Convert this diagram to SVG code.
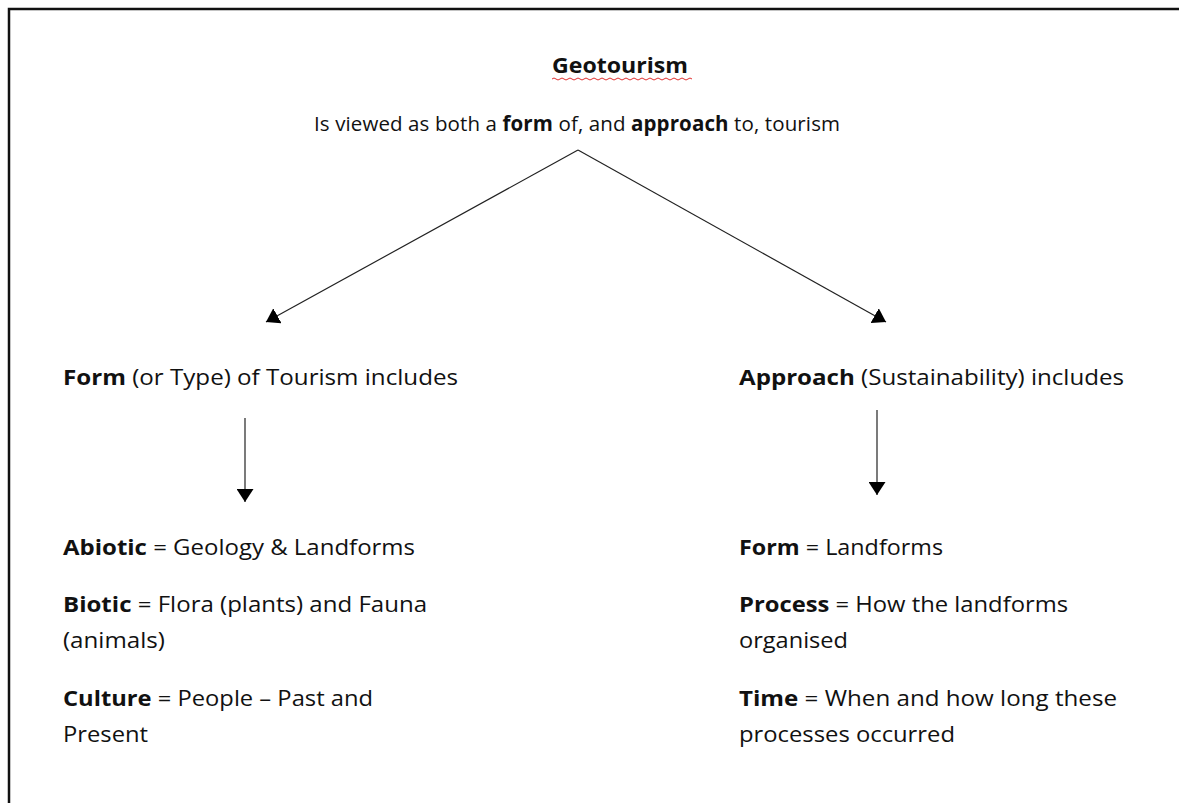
<svg xmlns="http://www.w3.org/2000/svg" width="1179" height="803" viewBox="0 0 1179 803">
<style>
text{font-family:"Open Sans","Liberation Sans",Arial,sans-serif;font-size:22px;fill:#111}
.b{font-weight:bold}
.sm{font-size:20.5px}
.conn{stroke:#222;stroke-width:1.2;fill:none}
.frame{stroke:#111;stroke-width:2.5;fill:none}
</style>
<defs>
<marker id="ah" viewBox="0 0 13 17" refX="13" refY="8.5" markerWidth="13" markerHeight="17" markerUnits="userSpaceOnUse" orient="auto">
<path d="M0,0 L13,8.5 L0,17 z" fill="#000"/>
</marker>
</defs>
<rect width="1179" height="803" fill="#fff"/>
<path class="frame" d="M9,803 L9,9 L1179,9"/>
<g id="title">
<text x="552" y="73" class="b" textLength="136" lengthAdjust="spacingAndGlyphs">Geotourism</text>
<path d="M552,79 q2,-2 4,0 t4,0 t4,0 t4,0 t4,0 t4,0 t4,0 t4,0 t4,0 t4,0 t4,0 t4,0 t4,0 t4,0 t4,0 t4,0 t4,0 t4,0 t4,0 t4,0 t4,0 t4,0 t4,0 t4,0 t4,0 t4,0 t4,0 t4,0 t4,0 t4,0 t4,0 t4,0 t4,0 t4,0 t4,0" stroke="#e03030" stroke-width="1" fill="none"/>
<text x="314" y="131" class="sm" textLength="526" lengthAdjust="spacing">Is viewed as both a <tspan class="b">form</tspan> of, and <tspan class="b">approach</tspan> to, tourism</text>
</g>
<g id="form-node">
<text x="63" y="385" textLength="395" lengthAdjust="spacingAndGlyphs"><tspan class="b">Form</tspan> (or Type) of Tourism includes</text>
</g>
<g id="approach-node">
<text x="739" y="385" textLength="385" lengthAdjust="spacingAndGlyphs"><tspan class="b">Approach</tspan> (Sustainability) includes</text>
</g>
<g id="form-list">
<text x="63" y="555" textLength="352" lengthAdjust="spacingAndGlyphs"><tspan class="b">Abiotic</tspan> = Geology &amp; Landforms</text>
<text x="63" y="612" textLength="364" lengthAdjust="spacingAndGlyphs"><tspan class="b">Biotic</tspan> = Flora (plants) and Fauna</text>
<text x="63" y="648" textLength="102" lengthAdjust="spacingAndGlyphs">(animals)</text>
<text x="63" y="706" textLength="310" lengthAdjust="spacingAndGlyphs"><tspan class="b">Culture</tspan> = People – Past and</text>
<text x="63" y="742" textLength="85" lengthAdjust="spacingAndGlyphs">Present</text>
</g>
<g id="approach-list">
<text x="739" y="555" textLength="204" lengthAdjust="spacingAndGlyphs"><tspan class="b">Form</tspan> = Landforms</text>
<text x="739" y="612" textLength="329" lengthAdjust="spacingAndGlyphs"><tspan class="b">Process</tspan> = How the landforms</text>
<text x="739" y="648" textLength="109" lengthAdjust="spacingAndGlyphs">organised</text>
<text x="739" y="706" textLength="378" lengthAdjust="spacingAndGlyphs"><tspan class="b">Time</tspan> = When and how long these</text>
<text x="739" y="742" textLength="216" lengthAdjust="spacingAndGlyphs">processes occurred</text>
</g>
<g id="connectors">
<line class="conn" x1="578" y1="150" x2="266" y2="322" marker-end="url(#ah)"/>
<line class="conn" x1="578" y1="150" x2="886" y2="322" marker-end="url(#ah)"/>
<line class="conn" x1="245" y1="418" x2="245" y2="502" marker-end="url(#ah)"/>
<line class="conn" x1="877" y1="410" x2="877" y2="495" marker-end="url(#ah)"/>
</g>
</svg>
